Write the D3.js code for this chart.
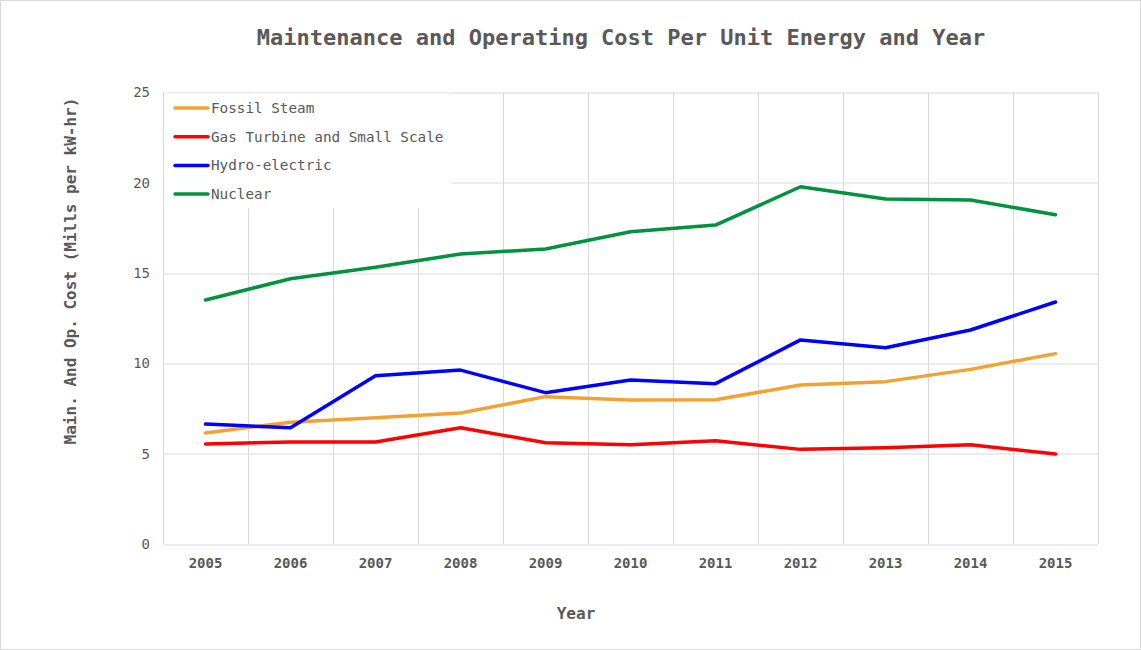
<!DOCTYPE html>
<html>
<head>
<meta charset="utf-8">
<script src="https://cdn.jsdelivr.net/npm/d3@7"></script>
<style>
  body { margin: 0; background: #fff; }
  text { font-family: "DejaVu Sans Mono", "Liberation Mono", monospace; fill: #595959; }
</style>
</head>
<body>
<svg id="chart" width="1141" height="650"></svg>
<script>
// data
const years = ["2005","2006","2007","2008","2009","2010","2011","2012","2013","2014","2015"];
const fossilSteam = [6.15, 6.74, 6.99, 7.25, 8.16, 7.97, 7.99, 8.80, 8.99, 9.67, 10.54];
const gasTurbine  = [5.54, 5.65, 5.65, 6.44, 5.61, 5.50, 5.72, 5.24, 5.33, 5.50, 4.98];
const hydro       = [6.64, 6.44, 9.32, 9.63, 8.38, 9.08, 8.88, 11.30, 10.87, 11.85, 13.40];
const nuclear     = [13.51, 14.69, 15.32, 16.06, 16.33, 17.29, 17.66, 19.78, 19.10, 19.05, 18.23];
const yTicks = [0, 5, 10, 15, 20, 25];

const series = [
  {name: "Fossil Steam", values: fossilSteam, color: "#f2a232"},
  {name: "Gas Turbine and Small Scale", values: gasTurbine, color: "#ff0000"},
  {name: "Hydro-electric", values: hydro, color: "#0000ff"},
  {name: "Nuclear", values: nuclear, color: "#00923f"}
];

const margin = {top: 92.5, right: 43, bottom: 106, left: 163};
const W = 1141, H = 650;
const width = W - margin.left - margin.right;
const height = H - margin.top - margin.bottom;

const svg = d3.select("#chart");

svg.append("rect")
  .attr("x", 0.5).attr("y", 0.5)
  .attr("width", W - 1).attr("height", H - 1)
  .attr("fill", "#fff").attr("stroke", "#d9d9d9");

const g = svg.append("g")
  .attr("transform", "translate(" + margin.left + "," + margin.top + ")");

const x = d3.scaleBand().domain(years).range([0, width]);
const y = d3.scaleLinear().domain([0, 25]).range([height, 0]);

// horizontal grid
g.append("g")
  .selectAll("line")
  .data(yTicks)
  .join("line")
  .attr("x1", 0).attr("x2", width)
  .attr("y1", d => Math.round(y(d)) + 0.5).attr("y2", d => Math.round(y(d)) + 0.5)
  .attr("stroke", "#d9d9d9");

// vertical grid at band edges
g.append("g")
  .selectAll("line")
  .data(years.concat(["end"]))
  .join("line")
  .attr("x1", (d, i) => Math.round(i * x.step()) + 0.5)
  .attr("x2", (d, i) => Math.round(i * x.step()) + 0.5)
  .attr("y1", 0).attr("y2", height)
  .attr("stroke", "#d9d9d9");

// y axis labels
const yAxis = g.append("g")
  .call(d3.axisLeft(y).tickValues(yTicks).tickSize(0).tickPadding(13));
yAxis.select(".domain").remove();
yAxis.selectAll("text")
  .style("font-family", "'DejaVu Sans Mono', monospace")
  .style("font-size", "14px")
  .attr("fill", "#595959");

// x axis labels
const xAxis = g.append("g")
  .attr("transform", "translate(0," + height + ")")
  .call(d3.axisBottom(x).tickSize(0).tickPadding(14));
xAxis.select(".domain").remove();
xAxis.selectAll("text")
  .style("font-family", "'DejaVu Sans Mono', monospace")
  .style("font-size", "14px")
  .style("font-weight", "bold")
  .attr("fill", "#595959");

// lines
const line = d3.line()
  .x((d, i) => x(years[i]) + x.bandwidth() / 2)
  .y(d => y(d));

g.selectAll(".series")
  .data(series)
  .join("path")
  .attr("class", "series")
  .attr("fill", "none")
  .attr("stroke", d => d.color)
  .attr("stroke-width", 3.5)
  .attr("stroke-linejoin", "round")
  .attr("stroke-linecap", "round")
  .attr("d", d => line(d.values));

// legend
const legend = g.append("g");
legend.append("rect")
  .attr("x", 1).attr("y", 1)
  .attr("width", 287).attr("height", 115)
  .attr("fill", "#fff");

const item = legend.selectAll(".item")
  .data(series)
  .join("g")
  .attr("class", "item")
  .attr("transform", (d, i) => "translate(10," + (15.5 + i * 28.7) + ")");

item.append("line")
  .attr("x1", 2).attr("x2", 35)
  .attr("stroke", d => d.color)
  .attr("stroke-width", 3.5)
  .attr("stroke-linecap", "round");

item.append("text")
  .attr("x", 38).attr("dy", "0.35em")
  .style("font-size", "14.3px")
  .text(d => d.name);

// title
svg.append("text")
  .attr("x", 621).attr("y", 45)
  .attr("text-anchor", "middle")
  .style("font-size", "22px")
  .style("font-weight", "bold")
  .text("Maintenance and Operating Cost Per Unit Energy and Year");

// axis titles
svg.append("text")
  .attr("x", 576).attr("y", 619)
  .attr("text-anchor", "middle")
  .style("font-size", "16px")
  .style("font-weight", "bold")
  .text("Year");

svg.append("text")
  .attr("transform", "translate(76,271) rotate(-90)")
  .attr("text-anchor", "middle")
  .style("font-size", "16px")
  .style("font-weight", "bold")
  .text("Main. And Op. Cost (Mills per kW-hr)");
</script>
</body>
</html>
